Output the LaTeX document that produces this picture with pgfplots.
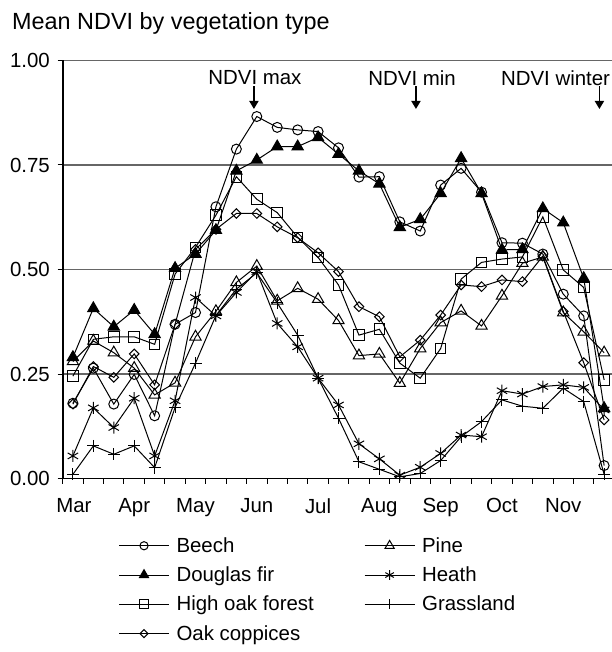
\documentclass[border=0pt]{standalone}
\usepackage{pgfplots}
\pgfplotsset{compat=1.18}
\usetikzlibrary{arrows.meta}
\usepackage{fontspec}
\setmainfont{Liberation Sans}
\newcommand\lgs{\vphantom{Hg}}
\newcommand\lgw[1]{\makebox[187.6bp][l]{\lgs#1}}

\pgfplotstableread{
x    beech  pine   fir    heath  oak    grass  copp
0.5  0.180  0.280  0.290  0.054  0.245  0.010  0.178
1.5  0.264  0.329  0.407  0.169  0.333  0.078  0.268
2.5  0.178  0.301  0.363  0.122  0.339  0.058  0.242
3.5  0.249  0.264  0.403  0.192  0.339  0.078  0.298
4.5  0.150  0.200  0.345  0.054  0.321  0.026  0.224
5.5  0.369  0.229  0.503  0.186  0.489  0.170  0.369
6.5  0.397  0.339  0.537  0.433  0.553  0.276  0.548
7.5  0.650  0.400  0.594  0.389  0.630  0.390  0.596
8.5  0.788  0.469  0.736  0.445  0.722  0.453  0.634
9.5  0.866  0.508  0.762  0.495  0.668  0.492  0.634
10.5 0.840  0.425  0.794  0.371  0.636  0.420  0.602
11.5 0.834  0.455  0.794  0.315  0.577  0.343  0.576
12.5 0.830  0.429  0.816  0.240  0.529  0.240  0.540
13.5 0.791  0.378  0.776  0.176  0.463  0.144  0.495
14.5 0.721  0.294  0.736  0.083  0.343  0.040  0.411
15.5 0.722  0.298  0.705  0.047  0.357  0.022  0.387
16.5 0.614  0.228  0.601  0.008  0.276  0.004  0.291
17.5 0.592  0.311  0.620  0.027  0.240  0.012  0.331
18.5 0.702  0.373  0.682  0.060  0.311  0.043  0.391
19.5 0.742  0.401  0.766  0.104  0.477  0.100  0.463
20.5 0.685  0.365  0.682  0.100  0.517  0.136  0.459
21.5 0.564  0.437  0.547  0.210  0.525  0.188  0.475
22.5 0.563  0.515  0.548  0.202  0.530  0.173  0.471
23.5 0.537  0.530  0.646  0.220  0.626  0.168  0.532
24.5 0.441  0.397  0.612  0.224  0.499  0.216  0.400
25.5 0.389  0.351  0.479  0.218  0.457  0.184  0.277
26.5 0.031  0.301  0.168  0.164  0.236  0.010  0.140
}\ndvi

\begin{document}
\begin{tikzpicture}[font=\fontsize{20.5}{24}\selectfont]
\path[use as bounding box] (-62.7bp,-173.5bp) rectangle (549.3bp,478.5bp);
\node[anchor=base west, inner sep=0pt, font=\fontsize{23.5}{27}\selectfont] at (-50.7bp,449bp) {Mean NDVI by vegetation type};
\begin{axis}[
  at={(0,0)}, anchor=south west,
  scale only axis, width=549.6bp, height=418bp,
  xmin=0, xmax=26.9, ymin=0, ymax=1,
  clip=false,
  axis x line=bottom, axis y line=left,
  axis line style={-, line width=1.8bp, black},
  tick align=outside,
  major tick length=5bp, minor tick length=5bp,
  tick style={line width=1bp, black},
  ytick={0,0.25,0.5,0.75,1},
  yticklabel style={/pgf/number format/fixed, /pgf/number format/fixed zerofill, /pgf/number format/precision=2, inner sep=0pt, anchor=east, xshift=-7.7bp},
  /pgf/number format/assume math mode=true,
  ymajorgrids, grid style={line width=1.1bp, black!60},
  xtick={0,...,26}, xticklabels={},
  extra x ticks={0.55,3.5,6.5,9.5,12.5,15.5,18.5,21.5,24.5},
  extra x tick labels={Mar,Apr,May,Jun,Jul,Aug,Sep,Oct,Nov},
  extra x tick style={major tick length=0pt, grid=none, xticklabel style={inner sep=0pt, anchor=north, yshift=-19.8bp}},
  every axis plot/.append style={line width=1bp, black, mark options={solid, line width=1bp}},
  legend columns=2,
  legend style={at={(axis description cs:0.1012,-0.1409)}, anchor=north west, draw=none, fill=none, inner sep=0pt,
    row sep=13bp, nodes={inner sep=0pt, anchor=west},
    /tikz/every odd column/.append style={column sep=7bp},
    /tikz/every even column/.append style={column sep=0bp}},
  legend cell align=left,
  legend image code/.code={\draw[mark repeat=2, mark phase=2, every mark/.append style={scale=0.82}] plot coordinates {(0bp,0bp) (25bp,0bp) (50bp,0bp)};},
]
\addplot[mark=o, mark size=5bp, mark options={fill=white}] table[x=x, y=beech] {\ndvi};
\addlegendentry{\lgw{Beech}}
\addplot[mark=triangle, mark size=6.5bp, mark options={fill=white}] table[x=x, y=pine] {\ndvi};
\addlegendentry{\lgs Pine}
\addplot[mark=triangle*, mark size=6.5bp, mark options={fill=black}] table[x=x, y=fir] {\ndvi};
\addlegendentry{\lgw{Douglas fir}}
\addplot[mark=asterisk, mark size=6bp] table[x=x, y=heath] {\ndvi};
\addlegendentry{\lgs Heath}
\addplot[mark=square, mark size=5.3bp, mark options={fill=white}] table[x=x, y=oak] {\ndvi};
\addlegendentry{\lgw{High oak forest}}
\addplot[mark=+, mark size=6bp] table[x=x, y=grass] {\ndvi};
\addlegendentry{\lgs Grassland}
\addplot[mark=square, mark size=3.4bp, mark options={fill=white, rotate=45}] table[x=x, y=copp] {\ndvi};
\addlegendentry{\lgw{Oak coppices}}
\draw[black!60, line width=1.1bp] (rel axis cs:1,0) -- (rel axis cs:1,1);
\node[inner sep=0pt] at (axis cs:9.41,0.958) {NDVI max};
\node[inner sep=0pt] at (axis cs:17.1,0.958) {NDVI min};
\node[inner sep=0pt, anchor=east] at (axis cs:26.8,0.958) {NDVI winter};
\draw[line width=1.8bp, -{Triangle[length=8bp, width=9bp]}] (axis cs:9.36,0.938) -- (axis cs:9.36,0.884);
\draw[line width=1.8bp, -{Triangle[length=8bp, width=9bp]}] (axis cs:17.29,0.938) -- (axis cs:17.29,0.884);
\draw[line width=1.8bp, -{Triangle[length=8bp, width=9bp]}] (axis cs:26.27,0.938) -- (axis cs:26.27,0.884);
\end{axis}
\end{tikzpicture}
\end{document}
